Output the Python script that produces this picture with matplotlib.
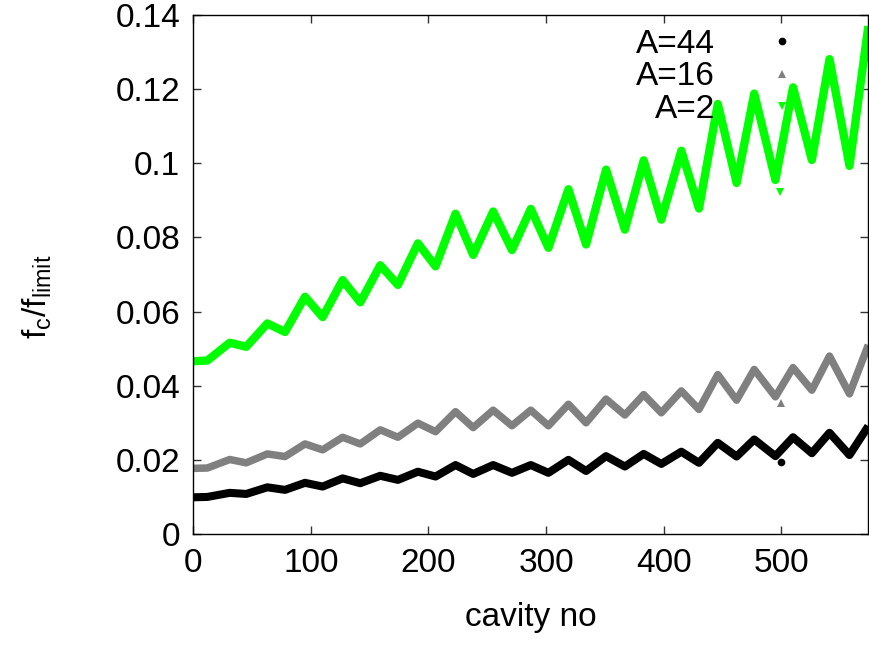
import matplotlib

matplotlib.use("Agg")

import matplotlib.pyplot as plt
from matplotlib.lines import Line2D

# turning points of the sawtooth (cavity number)
CAVITY = [0, 12, 31, 45, 63, 78, 95, 110, 127, 142, 159, 174, 191, 206, 223, 238, 255, 271, 287,
          302, 319, 334, 351, 367, 383, 398, 415, 430, 446, 462, 477, 495, 510, 526, 541, 558, 574]

# f_c / f_limit at those cavities
F_A44 = [0.0099, 0.0100, 0.0111, 0.0108, 0.0126, 0.0119, 0.0138, 0.0128, 0.0150, 0.0137, 0.0157,
         0.0146, 0.0168, 0.0155, 0.0186, 0.0162, 0.0186, 0.0165, 0.0186, 0.0165, 0.0200, 0.0170,
         0.0210, 0.0182, 0.0216, 0.0189, 0.0222, 0.0192, 0.0246, 0.0209, 0.0255, 0.0210, 0.0261,
         0.0218, 0.0273, 0.0213, 0.0291]
F_A16 = [0.0177, 0.0178, 0.0201, 0.0192, 0.0216, 0.0209, 0.0243, 0.0227, 0.0261, 0.0243, 0.0281,
         0.0261, 0.0299, 0.0276, 0.0330, 0.0287, 0.0334, 0.0292, 0.0334, 0.0292, 0.0350, 0.0300,
         0.0364, 0.0321, 0.0376, 0.0327, 0.0386, 0.0336, 0.0430, 0.0361, 0.0444, 0.0370, 0.0449,
         0.0388, 0.0480, 0.0378, 0.0510]
F_A2 = [0.0466, 0.0468, 0.0516, 0.0505, 0.0568, 0.0545, 0.0640, 0.0585, 0.0685, 0.0625, 0.0725,
        0.0672, 0.0784, 0.0722, 0.0864, 0.0753, 0.0870, 0.0766, 0.0877, 0.0772, 0.0930, 0.0781,
        0.0983, 0.0821, 0.1008, 0.0848, 0.1034, 0.0878, 0.1160, 0.0947, 0.1188, 0.0955, 0.1205,
        0.1009, 0.1281, 0.0993, 0.1370]

# stray points just off each curve near cavity 500 (A=44, A=16, A=2)
STRAY_CAVITY = [500, 500, 499]
STRAY_VALUE = [0.0195, 0.0353, 0.0922]

LABELS = ["A=44", "A=16", "A=2"]
X_TICKS = [0, 100, 200, 300, 400, 500]
Y_TICKS = [0, 0.02, 0.04, 0.06, 0.08, 0.10, 0.12, 0.14]
Y_TICK_LABELS = ["0", "0.02", "0.04", "0.06", "0.08", "0.1", "0.12", "0.14"]


def main() -> None:
    plt.rcParams["font.family"] = ["Liberation Sans", "DejaVu Sans"]
    plt.rcParams["font.size"] = 24

    fig = plt.figure(figsize=(8.69, 6.45), dpi=100)
    ax = fig.add_axes([0.2224, 0.1721, 0.7768, 0.8046])

    styles = [
        ("black", "o", 5.8, F_A44),
        ("#808080", "^", 5.4, F_A16),
        ("#00ff00", "v", 6.0, F_A2),
    ]
    handles = []
    for (color, marker, lw, values), x0, y0 in zip(styles, STRAY_CAVITY, STRAY_VALUE):
        ax.plot(CAVITY, values, color=color, lw=lw, solid_joinstyle="round", solid_capstyle="butt")
        ax.plot([x0], [y0], ls="none", marker=marker, ms=5.5, color=color, mew=0)
        handles.append(Line2D([], [], ls="none", marker=marker, ms=5.5, color=color, mew=0))

    ax.set_xlim(0, 574)
    ax.set_ylim(0, 0.14)
    ax.set_xticks(X_TICKS)
    ax.set_yticks(Y_TICKS)
    ax.set_yticklabels(Y_TICK_LABELS)
    ax.tick_params(direction="in", length=6, width=1, top=True, right=True, color="#333333")
    ax.tick_params(axis="y", pad=9.3)
    ax.tick_params(axis="x", pad=10)
    for spine in ax.spines.values():
        spine.set_linewidth(1)

    ax.set_xlabel("cavity no")
    ax.xaxis.set_label_coords(0.5, -0.131)
    ax.set_ylabel(r"$\mathregular{f_c/f_{limit}}$")
    ax.yaxis.set_label_coords(-0.207, 0.457)

    ax.legend(
        handles,
        LABELS,
        loc="upper right",
        bbox_to_anchor=(0.9214, 0.9735),
        frameon=False,
        markerfirst=False,
        handlelength=2,
        handletextpad=1,
        labelspacing=0.05,
        borderpad=0,
        borderaxespad=0,
    )

    fig.savefig("out.png", dpi=100)
    plt.close(fig)


if __name__ == "__main__":
    main()
